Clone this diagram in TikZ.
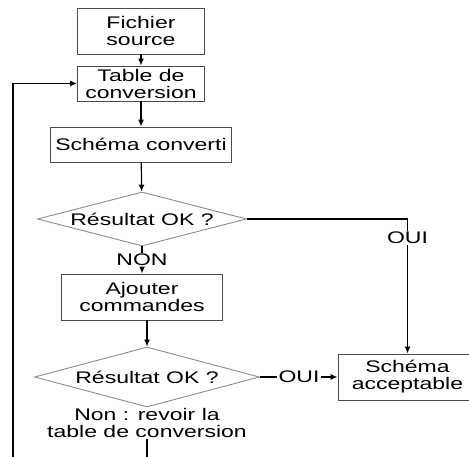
\documentclass[tikz,border=0pt]{standalone}
\usepackage{fontspec}
\setmainfont[FakeStretch=1.37]{Liberation Sans}
\usetikzlibrary{arrows.meta,shapes.geometric,positioning}
\tikzset{
>={Latex[length=7pt,width=6pt]},
boite/.style={rectangle,draw=black!70,line width=0.9pt,align=center,inner sep=2pt},
losange/.style={diamond,aspect=3.8,draw=black!45,line width=0.9pt,inner sep=0pt},
fleche/.style={->,line width=1.2pt},
trait/.style={line width=1.2pt},
etiquette/.style={inner sep=1pt,align=center}}

\begin{document}
\begin{tikzpicture}[x=1pt,y=-1pt,font=\fontsize{16.8}{17}\selectfont]

\useasboundingbox (0,0) rectangle (469,457);
\clip (0,0) rectangle (469,457);

\node[boite,minimum width=127pt,minimum height=46pt] (source) at (141,31) {Fichier\\source};
\node[boite,minimum width=127pt,minimum height=35pt] (table) at (141,83.5) {Table de\\conversion};
\node[boite,minimum width=181pt,minimum height=35pt] (conv) at (141,144.5) {Schéma converti};
\node[losange,minimum width=209pt,minimum height=54pt] (d1) at (142,219) {Résultat OK ?};
\node[etiquette] (non) at (142,260) {NON};
\node[boite,minimum width=161pt,minimum height=46pt] (ajout) at (142,297) {Ajouter\\commandes};
\node[losange,minimum width=225pt,minimum height=60pt] (d2) at (147,377) {Résultat OK ?};
\node[etiquette,below=0pt of d2] (revoir) {Non : revoir la\\table de conversion};
\node[boite,minimum width=139pt,minimum height=46pt] (accept) at (407.5,377) {Schéma\\acceptable};
\node[etiquette] (oui1) at (407.5,238) {OUI};
\node[etiquette] (oui2) at (299,377) {OUI};
\coordinate (coin) at (13,480);

\draw[fleche] (source) -- (table);
\draw[fleche] (table) -- (conv);
\draw[fleche] (conv) -- (d1);

\draw[trait] (d1.south) -- (non.north);
\draw[fleche] (non.south) -- (ajout.north);
\draw[fleche] (d2.north |- ajout.south) -- (d2.north);

\draw[trait] (d1.east) -| (oui1.north);
\draw[fleche] (oui1.south) -- (accept.north);

\draw[trait] (d2.east) -- (oui2.west);
\draw[fleche] (oui2.east) -- (accept.west);

\draw[fleche] (revoir.south) -- (revoir.south |- coin) -- (coin) |- (table.west);

\end{tikzpicture}
\end{document}
